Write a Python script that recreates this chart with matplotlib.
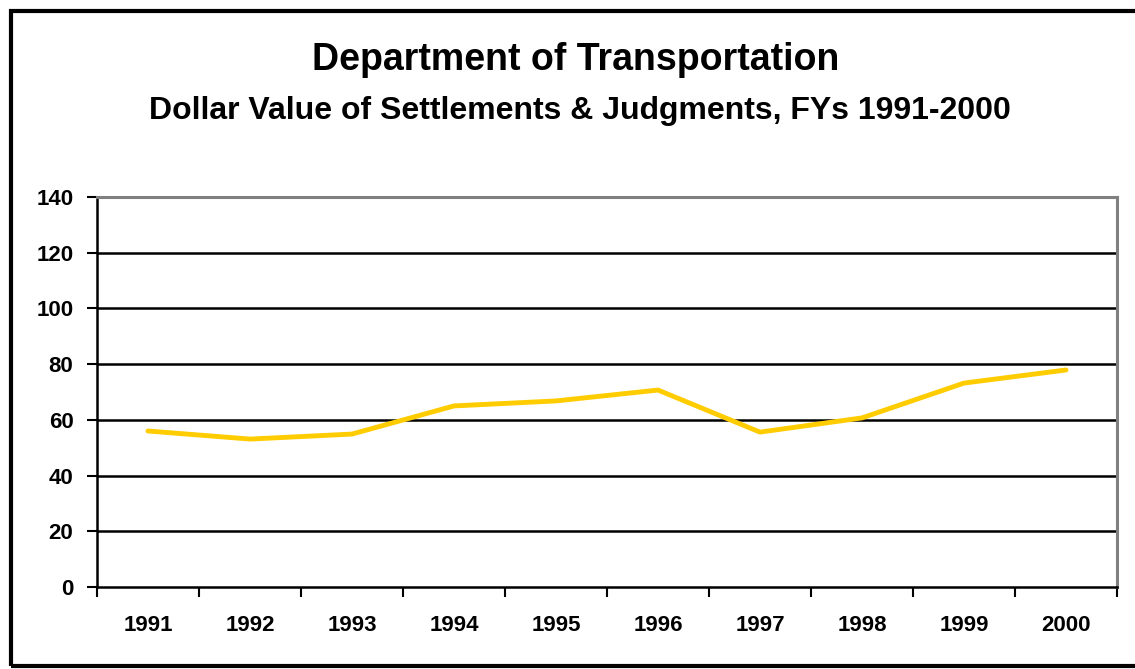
import matplotlib
matplotlib.use("Agg")
import matplotlib.pyplot as plt
from matplotlib.patches import Rectangle

# fiscal years and dollar values
anos = ['1991', '1992', '1993', '1994', '1995', '1996', '1997', '1998', '1999', '2000']
valores = [56.0, 53.1, 54.9, 65.0, 66.8, 70.7, 55.6, 60.7, 73.2, 77.9]
yticks = [0, 20, 40, 60, 80, 100, 120, 140]

plt.rcParams['font.family'] = ['Liberation Sans', 'DejaVu Sans']
plt.rcParams['font.weight'] = 'bold'

W, H = 1135, 669
fig = plt.figure(figsize=(W / 100, H / 100), dpi=100)
ax = fig.add_axes([97 / W, 1 - 587 / H, (1117 - 97) / W, (587 - 197) / H])

x = [i + 0.5 for i in range(len(anos))]
ax.plot(x, valores, color='#FFCC00', linewidth=3.5, solid_capstyle='round', zorder=3)

ax.set_xlim(0, len(anos))
ax.set_ylim(0, 140)
ax.set_yticks(yticks)
ax.set_yticklabels([str(v) for v in yticks], fontsize=16, fontweight='bold')
ax.set_xticks(range(len(anos) + 1))
ax.set_xticklabels([])
ax.set_xticks(x, minor=True)
ax.set_xticklabels(anos, minor=True, fontsize=16, fontweight='bold')
ax.tick_params(axis='x', which='major', direction='out', length=7, width=1.5, color='black')
ax.tick_params(axis='x', which='minor', length=0, pad=20)
ax.tick_params(axis='y', direction='out', length=7, width=1.5, pad=10)

for v in yticks[1:-1]:
    ax.axhline(v, color='black', linewidth=1.8, zorder=1)

ax.spines['left'].set_color('black')
ax.spines['left'].set_linewidth(1.8)
ax.spines['bottom'].set_color('black')
ax.spines['bottom'].set_linewidth(1.8)
ax.spines['top'].set_color('#808080')
ax.spines['top'].set_linewidth(2.2)
ax.spines['right'].set_color('#808080')
ax.spines['right'].set_linewidth(2.2)

fig.text(576 / W, 1 - 70 / H, 'Department of Transportation', ha='center', va='baseline',
         fontsize=27, fontweight='bold')
fig.text(580 / W, 1 - 119 / H, 'Dollar Value of Settlements & Judgments, FYs 1991-2000',
         ha='center', va='baseline', fontsize=23, fontweight='bold')

# moldura preta
fig.patches.append(Rectangle((11 / W, 1 - 666 / H), 1140 / W, 655 / H, transform=fig.transFigure,
                             fill=False, edgecolor='black', linewidth=3, clip_on=False))

fig.savefig('out.png', dpi=100)
